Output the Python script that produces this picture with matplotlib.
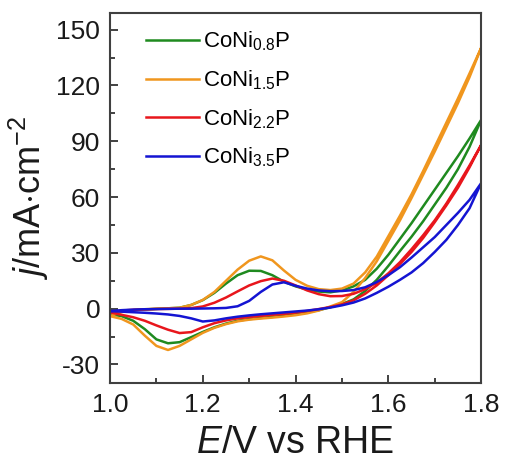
import matplotlib
matplotlib.use('Agg')
import matplotlib.pyplot as plt
from matplotlib.ticker import MultipleLocator

plt.rcParams['font.family'] = ['Liberation Sans', 'DejaVu Sans']
plt.rcParams['mathtext.fontset'] = 'custom'
plt.rcParams['mathtext.rm'] = 'Liberation Sans'
plt.rcParams['mathtext.it'] = 'Liberation Sans:italic'
plt.rcParams['mathtext.bf'] = 'Liberation Sans:bold'
plt.rcParams['axes.unicode_minus'] = False

# potential grid (V vs RHE), same for anodic and cathodic sweep
E = [1.000, 1.025, 1.050, 1.075, 1.100, 1.125, 1.150, 1.175, 1.200, 1.225, 1.250,
     1.275, 1.300, 1.325, 1.350, 1.375, 1.400, 1.425, 1.450, 1.475, 1.500, 1.525,
     1.550, 1.575, 1.600, 1.625, 1.650, 1.675, 1.700, 1.725, 1.750, 1.775, 1.800]

# current density, mA cm-2 ; *_fwd = anodic sweep, *_rev = cathodic sweep
j08_fwd = [-3.0, -1.6, -0.8, -0.4, -0.1, 0.2, 0.5, 2.0, 4.6, 8.5, 13.5,
           18.0, 20.4, 20.3, 18.0, 14.5, 12.0, 10.3, 9.2, 8.8, 9.8, 12.0,
           15.5, 21.5, 29.0, 37.5, 46.0, 55.0, 64.0, 73.0, 82.0, 91.5, 101.5]
j08_rev = [-3.0, -4.0, -6.5, -11.0, -16.5, -18.6, -18.0, -15.3, -12.5, -10.0, -8.0,
           -6.5, -5.6, -5.0, -4.4, -3.8, -3.0, -2.0, -0.8, 0.8, 2.5, 5.0,
           9.5, 15.5, 23.0, 31.0, 38.7, 47.0, 56.0, 65.0, 75.0, 87.0, 101.5]

j15_fwd = [-4.0, -1.8, -0.8, -0.3, 0.0, 0.2, 0.5, 2.0, 4.7, 9.0, 15.0,
           21.0, 25.8, 28.1, 26.0, 20.5, 15.5, 12.3, 10.5, 10.0, 10.8, 13.5,
           19.5, 28.0, 39.0, 50.0, 61.5, 74.0, 87.0, 100.0, 113.0, 126.5, 140.2]
j15_rev = [-4.0, -5.5, -8.5, -14.5, -20.0, -22.2, -20.0, -16.5, -13.0, -10.3, -8.3,
           -6.8, -5.9, -5.3, -4.8, -4.2, -3.5, -2.5, -1.0, 1.2, 3.5, 9.0,
           16.5, 25.5, 36.5, 47.5, 59.5, 72.0, 84.5, 97.5, 110.5, 124.5, 140.2]

j22_fwd = [-2.0, -1.0, -0.6, -0.4, -0.2, -0.1, 0.0, 0.3, 1.2, 3.2, 6.0,
           9.3, 12.5, 14.8, 16.2, 15.0, 12.5, 9.8, 7.8, 6.7, 6.8, 8.0,
           10.5, 14.0, 19.0, 25.0, 32.0, 39.5, 47.5, 56.5, 66.5, 77.0, 88.0]
j22_rev = [-2.0, -3.3, -4.6, -6.5, -9.0, -11.3, -13.1, -12.6, -10.0, -7.8, -6.3,
           -5.2, -4.5, -3.9, -3.3, -2.8, -2.1, -1.2, -0.2, 0.9, 2.3, 4.5,
           8.0, 12.5, 18.0, 24.0, 30.5, 38.0, 46.5, 55.5, 65.0, 76.0, 88.0]

j35_fwd = [-1.3, -0.8, -0.5, -0.3, -0.2, -0.1, 0.0, 0.0, 0.1, 0.2, 0.4,
           1.3, 4.2, 9.0, 13.0, 14.2, 12.3, 10.8, 9.8, 9.4, 9.5, 10.0,
           11.5, 14.3, 18.0, 22.3, 27.5, 33.0, 38.5, 45.0, 51.5, 58.5, 67.5]
j35_rev = [-1.3, -1.6, -1.9, -2.2, -2.6, -3.1, -3.9, -5.2, -6.9, -6.3, -5.2,
           -4.3, -3.6, -3.0, -2.5, -2.0, -1.5, -1.0, -0.3, 0.6, 1.8, 3.3,
           5.5, 8.5, 11.8, 15.5, 19.5, 24.5, 30.5, 37.0, 45.0, 54.0, 67.5]

labels = [r'CoNi$_{0.8}$P', r'CoNi$_{1.5}$P', r'CoNi$_{2.2}$P', r'CoNi$_{3.5}$P']
colors = ['#1f8a1f', '#f0961e', '#e8161c', '#1414d2']
fwd = [j08_fwd, j15_fwd, j22_fwd, j35_fwd]
rev = [j08_rev, j15_rev, j22_rev, j35_rev]

fig = plt.figure(figsize=(5.07, 4.61), dpi=100)
ax = fig.add_axes([0.217, 0.169, 0.732, 0.803])

for lab, c, f, r in zip(labels, colors, fwd, rev):
    ax.plot(E + E[::-1], f + r[::-1], color=c, lw=1.8, label=lab)

ax.set_xlim(1.0, 1.8)
ax.set_ylim(-40, 159)
ax.xaxis.set_major_locator(MultipleLocator(0.2))
ax.xaxis.set_minor_locator(MultipleLocator(0.1))
ax.yaxis.set_major_locator(MultipleLocator(30))
ax.yaxis.set_minor_locator(MultipleLocator(15))
ax.tick_params(which='both', direction='in', top=False, right=False,
               labelsize=19, colors='#333333', labelcolor='#1a1a1a', width=1.3)
ax.tick_params(which='major', length=6, pad=7)
ax.tick_params(which='minor', length=3.5)
for s in ax.spines.values():
    s.set_color('#404040')
    s.set_linewidth(1.5)

ax.set_xlabel(r'$E$/V vs RHE', fontsize=27, color='#1a1a1a', labelpad=6)
ax.set_ylabel(r'$j$/mA$\cdot$cm$^{-2}$', fontsize=26, color='#1a1a1a', labelpad=4)

ax.legend(loc='upper left', bbox_to_anchor=(0.072, 0.979), frameon=False,
          fontsize=16, handlelength=2.4, handletextpad=0.2, labelspacing=0.68,
          borderaxespad=0)

fig.savefig('out.png', dpi=100)
